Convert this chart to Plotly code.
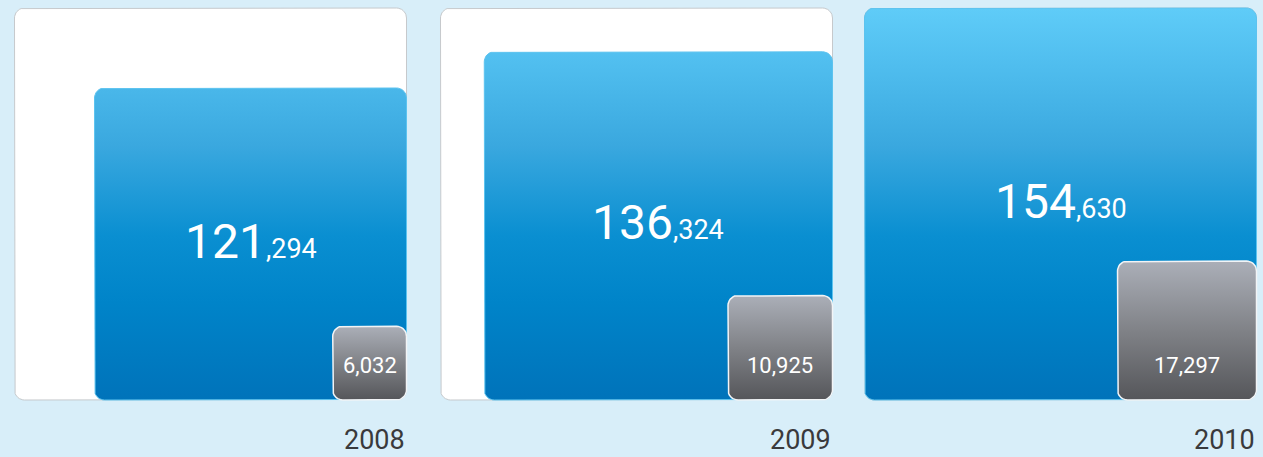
import numpy as np
import plotly.graph_objects as go

# ---- data ----
years = ["2008", "2009", "2010"]
main_values = [121294, 136324, 154630]
small_values = [6032, 10925, 17297]

# ---- layout constants ----
W, H = 1263, 457
BG = "#D8EEF9"
panel_right = [406.5, 832.5, 1256.5]
base = 57.0          # bottom of squares (data units, y up)
full = 392.0         # side of the reference (max) square
power = 0.94         # side scale exponent for the main squares
small_gain = 1.06    # small squares: area relative to the main square
radius = 10.0

blue_scale = [[0.0, "#0073BA"], [0.25, "#0084C9"], [0.42, "#0A8FD1"],
              [0.65, "#3AA8DF"], [0.85, "#4FBDEE"], [1.0, "#5FCCF8"]]
gray_scale = [[0.0, "#55565A"], [0.5, "#808287"], [1.0, "#ABAFB8"]]


def rrect(x0, y0, x1, y1, r, n=10):
    xs, ys = [], []
    corners = [(x1 - r, y1 - r, 0, 90), (x0 + r, y1 - r, 90, 180),
               (x0 + r, y0 + r, 180, 270), (x1 - r, y0 + r, 270, 360)]
    for cx, cy, a0, a1 in corners:
        t = np.radians(np.linspace(a0, a1, n))
        xs.extend(cx + r * np.cos(t))
        ys.extend(cy + r * np.sin(t))
    xs.append(xs[0])
    ys.append(ys[0])
    return xs, ys


fig = go.Figure()
annotations = []
vmax = max(main_values)

for i, yr in enumerate(years):
    right = panel_right[i]
    # reference (max) frame
    fx, fy = rrect(right - full, base, right, base + full, radius)
    fig.add_trace(go.Scatter(x=fx, y=fy, mode="lines", fill="toself",
                             fillcolor="#FFFFFF",
                             line=dict(color="#C6C9CC", width=1),
                             hoverinfo="skip"))
    # main square
    side = full * (main_values[i] / vmax) ** power
    bx, by = rrect(right - side, base, right, base + side, radius)
    fig.add_trace(go.Scatter(x=bx, y=by, mode="lines", fill="toself",
                             fillgradient=dict(type="vertical", colorscale=blue_scale,
                                               start=base, stop=base + full),
                             line=dict(color="#5CC3EF", width=1),
                             hoverinfo="skip"))
    # small square
    s = side * np.sqrt(small_values[i] / main_values[i]) * small_gain
    gx, gy = rrect(right - s, base, right, base + s, radius)
    fig.add_trace(go.Scatter(x=gx, y=gy, mode="lines", fill="toself",
                             fillgradient=dict(type="vertical", colorscale=gray_scale),
                             line=dict(color="#F2F4F6", width=1.5),
                             hoverinfo="skip"))

    # main label
    v = main_values[i]
    big, small = f"{v:,}".split(",", 1)
    annotations.append(dict(
        x=right - side / 2, y=base + side / 2 + 3, xref="x", yref="y",
        text=f"<span style='font-size:48px'>{big}</span><span style='font-size:27px'>,{small}</span>",
        showarrow=False, xanchor="center", yanchor="middle",
        font=dict(family="Roboto", color="#FFFFFF", size=48)))
    # small label
    annotations.append(dict(
        x=right - s / 2, y=base + 35, xref="x", yref="y",
        text=f"{small_values[i]:,}", showarrow=False,
        xanchor="center", yanchor="middle",
        font=dict(family="Roboto", color="#FFFFFF", size=22)))
    # year label
    annotations.append(dict(
        x=right, y=17, xref="x", yref="y", text=yr, showarrow=False,
        xanchor="right", yanchor="middle",
        font=dict(family="Roboto", color="#3A3A3C", size=27)))

fig.update_layout(
    width=W, height=H, margin=dict(l=0, r=0, t=0, b=0),
    paper_bgcolor=BG, plot_bgcolor=BG, showlegend=False,
    hovermode=False, annotations=annotations,
    xaxis=dict(range=[0, W], visible=False, fixedrange=True),
    yaxis=dict(range=[0, H], visible=False, fixedrange=True),
)

fig.write_html("out.html", config={"displayModeBar": False})

# remove the default page margin so the figure fills the window exactly
with open("out.html", "r", encoding="utf-8") as f:
    html = f.read()
html = html.replace("<head>", "<head><style>html,body{margin:0;padding:0;overflow:hidden;background:%s;}</style>" % BG, 1)
with open("out.html", "w", encoding="utf-8") as f:
    f.write(html)
